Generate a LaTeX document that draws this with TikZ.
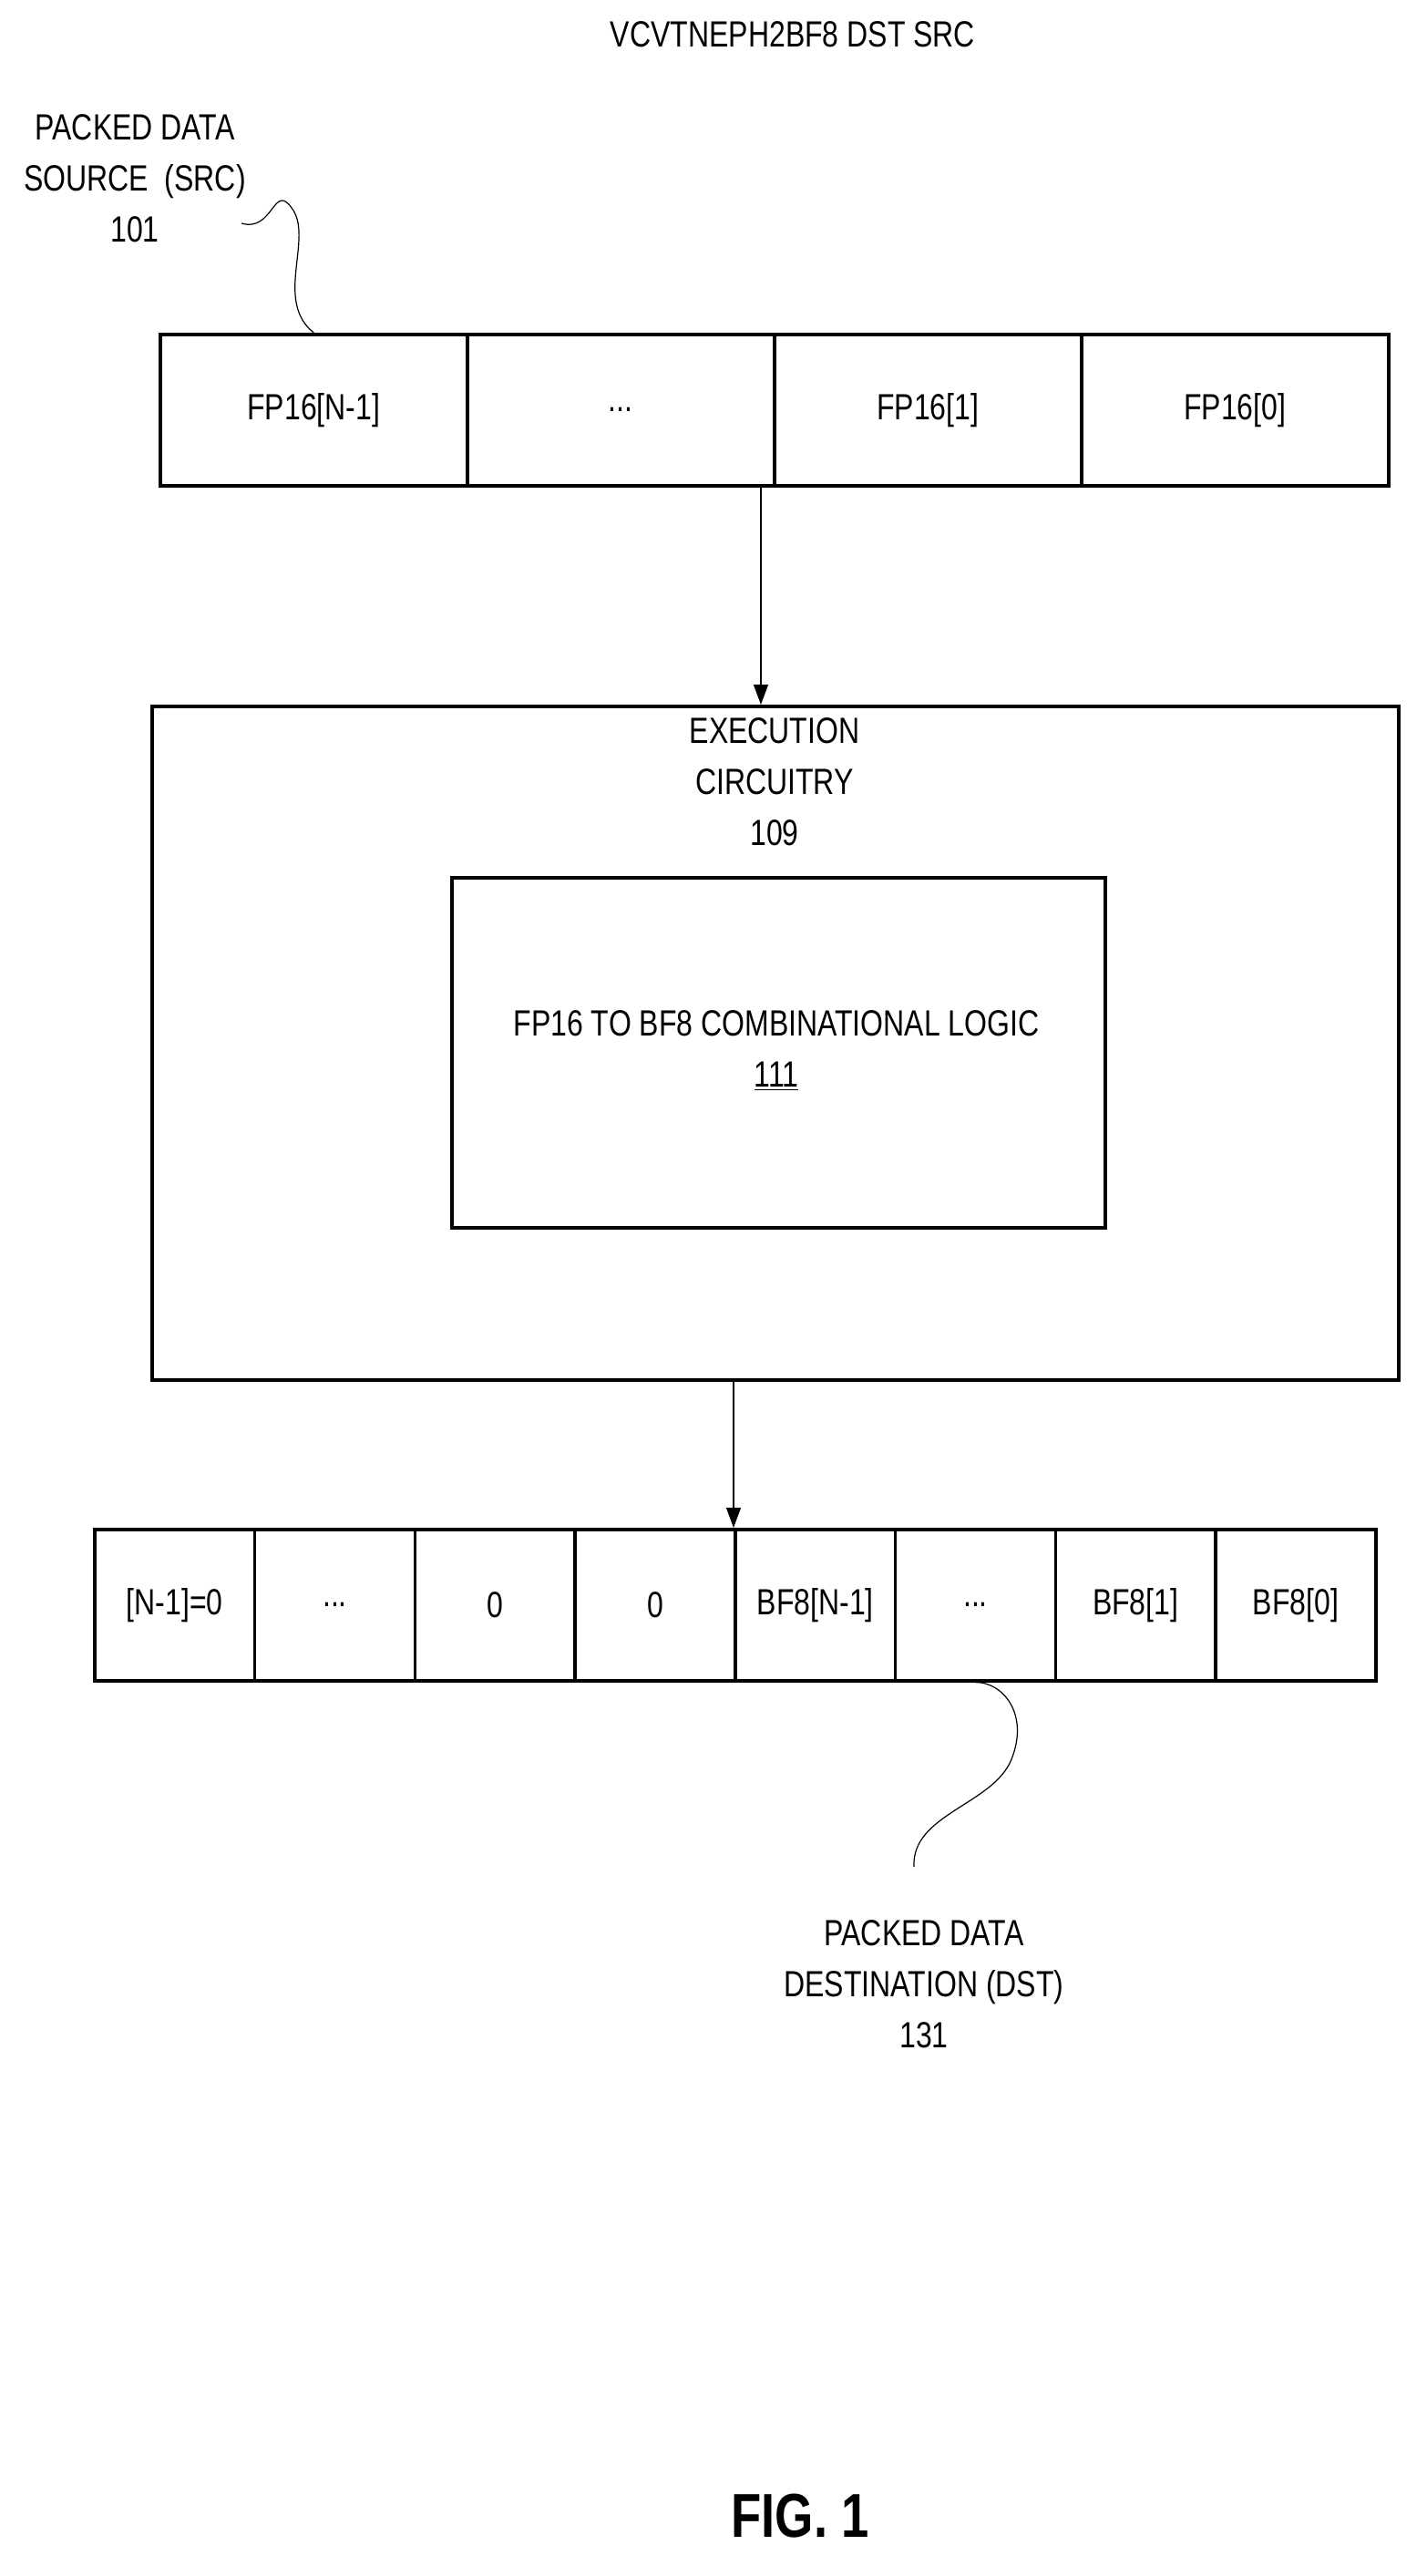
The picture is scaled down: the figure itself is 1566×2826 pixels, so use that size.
\documentclass[tikz,border=0pt]{standalone}
\usepackage{fontspec}
\setmainfont{Liberation Sans}[FakeStretch=0.8]
\usetikzlibrary{arrows.meta}
\newcommand{\mydots}{...}
\begin{document}
\begin{tikzpicture}[x=0.5pt,y=-0.5pt,
  cell/.style={draw,line width=1.8pt,minimum height=83pt,inner sep=0pt,font=\fontsize{20}{24}\selectfont},
  lbl/.style={align=center,font=\fontsize{20}{28}\selectfont},
  conn/.style={line width=0.6pt,-{Triangle[length=11pt,width=8pt]}},
  squig/.style={line width=0.6pt}]
\useasboundingbox (0,0) rectangle (1566,2826);
\node[lbl] (title) at (870,38) {VCVTNEPH2BF8 DST SRC};
\node[lbl] (srclbl) at (148,196) {PACKED DATA\\SOURCE\ \ (SRC)\\101};
% source row
\foreach \i/\t in {0/FP16[N-1],1/\mydots,2/FP16[1],3/FP16[0]}{
  \node[cell,minimum width=168.5pt,anchor=north west] (s\i) at (174+337*\i,365) {\t};
}
\coordinate (sq1) at (265,245);
\draw[squig] (sq1) .. controls (300,255) and (300,200) .. (320,228) .. controls (345,260) and (300,330) .. (s0.north);
% execution
\node[draw,line width=1.8pt,minimum width=684pt,minimum height=369.5pt,anchor=north west] (exec) at (165,773) {};
\node[lbl,anchor=north] (execlbl) at (850,780) {EXECUTION\\CIRCUITRY\\109};
\node[draw,line width=1.8pt,minimum width=358.5pt,minimum height=192pt,anchor=north west] (logic) at (494,961) {};
\node[lbl] (logiclbl) at (852,1153) {FP16 TO BF8 COMBINATIONAL LOGIC\\\underline{111}};
\coordinate (a1) at (835,531);
\draw[conn] (a1) -- (835,773);
% destination row
\foreach \i/\t in {0/{[N-1]=0},1/\mydots,2/0,3/0,4/BF8[N-1],5/\mydots,6/BF8[1],7/BF8[0]}{
  \node[cell,minimum width=87.9pt,anchor=north west] (d\i) at (102+175.75*\i,1676) {\t};
}
\draw[conn] (805,1512) -- (d4.north west);
\coordinate (sq2) at (1003,2048);
\draw[squig] (d5.south) .. controls (1100,1845) and (1130,1880) .. (1110,1930) .. controls (1090,1980) and (1000,1990) .. (sq2);
\node[lbl] (dstlbl) at (1014,2177) {PACKED DATA\\DESTINATION (DST)\\131};
\node[font=\bfseries\fontsize{34}{40}\selectfont] (fig) at (878,2760) {FIG. 1};
\end{tikzpicture}
\end{document}
